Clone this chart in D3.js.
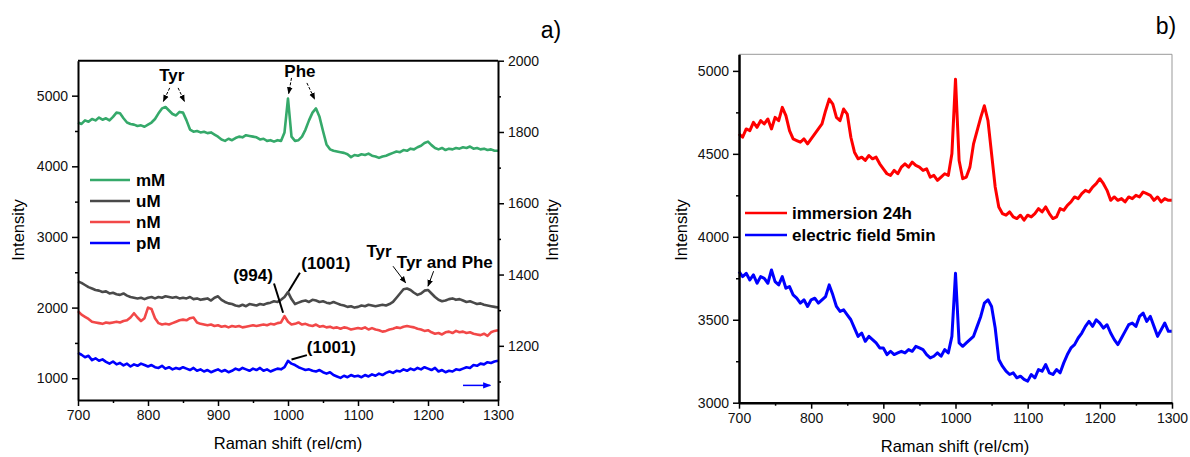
<!DOCTYPE html>
<html>
<head>
<meta charset="utf-8">
<script src="https://cdn.jsdelivr.net/npm/d3@7"></script>
<style>
body{margin:0;background:#fff;}
svg{display:block;font-family:"Liberation Sans",Arial,sans-serif;}
.tick text{font-size:14px;fill:#111;}
</style>
</head>
<body>
<script>
//raman shift grid, one value every 5 rel/cm
var shift = d3.range(700, 1301, 5);

//panel a series (mM, uM, nM on left axis, pM on right axis)
var mM = [4620,4600,4650,4630,4670,4650,4690,4660,4680,4650,
          4700,4760,4750,4680,4620,4600,4590,4570,4580,4560,
          4590,4620,4670,4750,4820,4840,4790,4740,4720,4770,
          4760,4650,4520,4490,4500,4480,4490,4470,4480,4450,
          4420,4380,4360,4390,4370,4400,4420,4410,4440,4430,
          4420,4410,4380,4390,4360,4370,4350,4370,4360,4480,
          4960,4420,4360,4370,4420,4520,4650,4760,4820,4700,
          4500,4310,4240,4220,4210,4200,4190,4170,4130,4160,
          4150,4170,4160,4180,4150,4140,4120,4140,4150,4170,
          4190,4210,4200,4230,4220,4250,4240,4270,4290,4330,
          4350,4300,4260,4240,4260,4230,4250,4240,4260,4250,
          4270,4260,4280,4250,4260,4240,4250,4230,4240,4220,
          4220];
var uM = [2370,2350,2320,2290,2270,2250,2240,2220,2230,2200,
          2210,2190,2180,2200,2170,2150,2140,2130,2140,2120,
          2140,2150,2130,2150,2140,2160,2150,2140,2150,2130,
          2140,2130,2150,2120,2130,2110,2120,2130,2100,2140,
          2160,2110,2080,2060,2050,2030,2020,2040,2020,2050,
          2040,2030,2050,2040,2060,2070,2090,2080,2110,2150,
          2220,2120,2050,2070,2090,2100,2080,2110,2100,2080,
          2090,2070,2060,2080,2060,2040,2030,2010,2020,2000,
          2010,2030,2020,2040,2030,2020,2030,2040,2030,2050,
          2080,2140,2200,2260,2270,2250,2210,2180,2200,2240,
          2250,2200,2150,2110,2090,2100,2120,2130,2110,2120,
          2100,2080,2090,2070,2050,2060,2040,2030,2020,2010,
          2000];
var nM = [1950,1900,1870,1840,1800,1790,1780,1770,1790,1780,
          1790,1800,1790,1810,1820,1860,1920,1860,1810,1850,
          2000,1980,1850,1780,1760,1770,1760,1780,1800,1820,
          1830,1820,1850,1860,1790,1770,1760,1750,1760,1740,
          1750,1730,1740,1720,1740,1730,1740,1720,1730,1740,
          1750,1740,1750,1760,1750,1770,1760,1780,1790,1880,
          1800,1760,1770,1790,1760,1770,1750,1740,1760,1730,
          1740,1720,1730,1710,1720,1700,1720,1710,1690,1700,
          1710,1700,1720,1690,1710,1690,1680,1660,1670,1690,
          1700,1720,1710,1730,1740,1730,1720,1700,1690,1670,
          1680,1650,1630,1640,1620,1650,1660,1640,1670,1650,
          1660,1640,1650,1630,1620,1610,1630,1600,1650,1670,
          1680];
var pM = [1180,1175,1168,1172,1160,1165,1158,1162,1155,1150,
          1156,1148,1152,1145,1150,1142,1148,1144,1150,1146,
          1142,1146,1140,1138,1144,1136,1140,1134,1138,1135,
          1140,1136,1132,1138,1130,1134,1128,1132,1126,1130,
          1134,1128,1132,1126,1130,1136,1132,1138,1134,1130,
          1136,1132,1138,1130,1134,1128,1132,1136,1134,1140,
          1158,1150,1146,1140,1136,1132,1134,1130,1128,1132,
          1126,1122,1126,1118,1114,1110,1116,1112,1118,1114,
          1116,1112,1118,1114,1120,1116,1122,1118,1124,1128,
          1124,1130,1128,1134,1130,1136,1132,1138,1134,1140,
          1136,1132,1138,1128,1132,1126,1130,1128,1134,1132,
          1136,1140,1138,1146,1144,1150,1148,1154,1152,1156,
          1158];

//panel b series
var immersion = [4620,4600,4650,4640,4690,4660,4700,4680,4710,4650,
                 4720,4700,4780,4730,4640,4590,4580,4570,4590,4560,
                 4590,4620,4650,4680,4760,4830,4800,4720,4700,4770,
                 4740,4600,4510,4470,4480,4460,4490,4470,4480,4440,
                 4410,4380,4370,4400,4380,4420,4440,4420,4450,4430,
                 4420,4400,4410,4360,4370,4340,4360,4380,4370,4500,
                 4950,4460,4350,4360,4420,4560,4640,4720,4790,4700,
                 4500,4300,4180,4140,4130,4150,4120,4110,4130,4100,
                 4130,4120,4140,4170,4150,4180,4140,4110,4120,4170,
                 4160,4190,4210,4240,4230,4260,4280,4270,4300,4320,
                 4350,4320,4280,4220,4240,4220,4230,4210,4240,4230,
                 4250,4240,4270,4260,4250,4220,4240,4210,4230,4220,
                 4220];
var electric = [3790,3760,3780,3740,3770,3720,3760,3750,3720,3800,
                3730,3710,3760,3690,3700,3650,3630,3600,3620,3580,
                3620,3630,3600,3620,3640,3710,3650,3580,3550,3560,
                3530,3500,3450,3400,3420,3370,3400,3380,3360,3330,
                3330,3290,3310,3290,3300,3310,3300,3320,3310,3340,
                3330,3320,3290,3270,3280,3300,3280,3320,3300,3400,
                3780,3360,3340,3360,3380,3400,3460,3520,3600,3620,
                3580,3450,3260,3220,3190,3170,3180,3150,3160,3140,
                3130,3170,3150,3200,3190,3230,3180,3170,3200,3180,
                3240,3290,3330,3350,3390,3420,3460,3490,3460,3500,
                3480,3450,3470,3420,3380,3350,3390,3430,3470,3480,
                3460,3520,3540,3490,3520,3460,3400,3440,3480,3430,
                3430];

//tick values
var xTicks = [700, 800, 900, 1000, 1100, 1200, 1300];
var xMinor = [750, 850, 950, 1050, 1150, 1250];
var yTicksA = [1000, 2000, 3000, 4000, 5000];
var yMinorA = [1500, 2500, 3500, 4500];
var yTicksA2 = [1200, 1400, 1600, 1800, 2000];
var yMinorA2 = [1100, 1300, 1500, 1700, 1900];
var yTicksB = [3000, 3500, 4000, 4500, 5000];
var yMinorB = [3250, 3750, 4250, 4750];

window.onload = function(){
    var svg = d3.select("body").append("svg")
        .attr("width", 1190)
        .attr("height", 457);
    svg.append("rect").attr("width", 1190).attr("height", 457).attr("fill", "#fff");

    var defs = svg.append("defs");
    [["arrK", "#000", 7], ["arrB", "#0000ff", 8]].forEach(function(m){
        defs.append("marker")
            .attr("id", m[0])
            .attr("viewBox", "0 0 10 10")
            .attr("refX", 9).attr("refY", 5)
            .attr("markerUnits", "userSpaceOnUse")
            .attr("markerWidth", m[2]).attr("markerHeight", m[2])
            .attr("orient", "auto")
            .append("path")
            .attr("d", "M0,1L10,5L0,9z")
            .attr("fill", m[1]);
    });

    setPanelA(svg);
    setPanelB(svg);
};

function styleAxis(g, width){
    g.select(".domain").attr("stroke", "#000").attr("stroke-width", width);
    g.selectAll(".tick line").attr("stroke", "#000").attr("stroke-width", 1.5);
}

function addAxis(svg, axisFn, scale, major, minor, transform, width){
    var g = svg.append("g").attr("transform", transform);
    g.call(axisFn(scale).tickValues(major).tickSize(6).tickSizeOuter(0).tickPadding(4).tickFormat(d3.format("d")));
    styleAxis(g, width);
    var gm = svg.append("g").attr("transform", transform);
    gm.call(axisFn(scale).tickValues(minor).tickSize(3).tickSizeOuter(0).tickFormat(""));
    gm.select(".domain").remove();
    gm.selectAll(".tick line").attr("stroke", "#000").attr("stroke-width", 1.5);
    return g;
}

function drawSeries(svg, x, y, values, color, width){
    var line = d3.line()
        .x(function(d, i){ return x(shift[i]); })
        .y(function(d){ return y(d); });
    svg.append("path")
        .datum(values)
        .attr("d", line)
        .attr("fill", "none")
        .attr("stroke", color)
        .attr("stroke-width", width)
        .attr("stroke-linejoin", "round");
}

function setPanelA(svg){
    var left = 78, right = 498, top = 60.7, bottom = 400;
    var x = d3.scaleLinear().domain([700, 1300]).range([left, right]);
    var y = d3.scaleLinear().domain([692, 5495]).range([bottom, top]);
    var y2 = d3.scaleLinear().domain([1048, 2000]).range([bottom, top]);

    var series = [
        {name: "mM", values: mM, color: "#35a96a", scale: y},
        {name: "uM", values: uM, color: "#4a4a4a", scale: y},
        {name: "nM", values: nM, color: "#f24848", scale: y},
        {name: "pM", values: pM, color: "#0000ff", scale: y2}
    ];
    series.forEach(function(s){
        drawSeries(svg, x, s.scale, s.values, s.color, 2.6);
    });

    //axes
    svg.append("line").attr("x1", left).attr("x2", right).attr("y1", top).attr("y2", top)
        .attr("stroke", "#000").attr("stroke-width", 2);
    addAxis(svg, d3.axisBottom, x, xTicks, xMinor, "translate(0," + bottom + ")", 2);
    addAxis(svg, d3.axisLeft, y, yTicksA, yMinorA, "translate(" + left + ",0)", 2);
    addAxis(svg, d3.axisRight, y2, yTicksA2, yMinorA2, "translate(" + right + ",0)", 2);

    //axis titles
    svg.append("text").attr("x", 288).attr("y", 449).attr("text-anchor", "middle")
        .style("font-size", "16.5px").text("Raman shift (rel/cm)");
    svg.append("text").attr("transform", "translate(24,230) rotate(-90)").attr("text-anchor", "middle")
        .style("font-size", "16.5px").text("Intensity");
    svg.append("text").attr("transform", "translate(558,230) rotate(-90)").attr("text-anchor", "middle")
        .style("font-size", "16.5px").text("Intensity");
    svg.append("text").attr("x", 551).attr("y", 38).attr("text-anchor", "middle")
        .style("font-size", "23px").text("a)");

    //legend
    var legend = svg.selectAll(".legA")
        .data(series)
        .enter()
        .append("g")
        .attr("class", "legA")
        .attr("transform", function(d, i){ return "translate(90," + (180 + i * 21) + ")"; });
    legend.append("line").attr("x1", 0).attr("x2", 40)
        .attr("stroke", function(d){ return d.color; }).attr("stroke-width", 2.5);
    legend.append("text").attr("x", 46).attr("y", 6)
        .style("font-size", "17px").style("font-weight", "bold")
        .text(function(d){ return d.name; });

    //peak labels (data coordinates: shift, left-axis intensity)
    var labels = [
        {t: "Tyr", x: 834, v: 5213},
        {t: "Phe", x: 1017, v: 5270},
        {t: "(994)", x: 950, v: 2380},
        {t: "(1001)", x: 1054, v: 2550},
        {t: "Tyr", x: 1130, v: 2720},
        {t: "Tyr and Phe", x: 1224, v: 2560},
        {t: "(1001)", x: 1062, v: 1360}
    ];
    svg.selectAll(".annA")
        .data(labels)
        .enter()
        .append("text")
        .attr("class", "annA")
        .attr("x", function(d){ return x(d.x); })
        .attr("y", function(d){ return y(d.v); })
        .attr("text-anchor", "middle")
        .style("font-size", "17px").style("font-weight", "bold")
        .text(function(d){ return d.t; });

    //thin arrows to peaks
    var arrows = [
        {x1: 831, v1: 5110, x2: 822, v2: 4920, dash: "3,1.5"},
        {x1: 843, v1: 5110, x2: 852, v2: 4920, dash: "3,1.5"},
        {x1: 1005, v1: 5251, x2: 1001, v2: 5030, dash: "3,1.5"},
        {x1: 1027, v1: 5180, x2: 1038, v2: 4950, dash: "3,1.5"},
        {x1: 1150, v1: 2586, x2: 1168, v2: 2351, dash: null},
        {x1: 1208, v1: 2515, x2: 1200, v2: 2303, dash: null}
    ];
    svg.selectAll(".arrA")
        .data(arrows)
        .enter()
        .append("line")
        .attr("class", "arrA")
        .attr("x1", function(d){ return x(d.x1); })
        .attr("y1", function(d){ return y(d.v1); })
        .attr("x2", function(d){ return x(d.x2); })
        .attr("y2", function(d){ return y(d.v2); })
        .attr("stroke", "#000").attr("stroke-width", 1)
        .attr("stroke-dasharray", function(d){ return d.dash; })
        .attr("marker-end", "url(#arrK)");

    //leader lines for the 994 / 1001 bands
    var leaders = [
        {x1: 980, v1: 2341, x2: 993, v2: 1927},
        {x1: 1017, v1: 2492, x2: 1001, v2: 2232},
        {x1: 1027, v1: 1327, x2: 1005, v2: 1266}
    ];
    svg.selectAll(".leadA")
        .data(leaders)
        .enter()
        .append("line")
        .attr("class", "leadA")
        .attr("x1", function(d){ return x(d.x1); })
        .attr("y1", function(d){ return y(d.v1); })
        .attr("x2", function(d){ return x(d.x2); })
        .attr("y2", function(d){ return y(d.v2); })
        .attr("stroke", "#000").attr("stroke-width", 2);

    //blue arrow: pM uses the right axis
    svg.append("line")
        .attr("x1", x(1250)).attr("x2", x(1289))
        .attr("y1", y2(1089)).attr("y2", y2(1089))
        .attr("stroke", "#0000ff").attr("stroke-width", 1.5)
        .attr("marker-end", "url(#arrB)");
}

function setPanelB(svg){
    var left = 739, right = 1172, top = 54.3, bottom = 402.7;
    var x = d3.scaleLinear().domain([700, 1300]).range([left, right]);
    var y = d3.scaleLinear().domain([3000, 5100]).range([bottom, top]);

    var series = [
        {name: "immersion 24h", values: immersion, color: "#ff0000"},
        {name: "electric field 5min", values: electric, color: "#0000ff"}
    ];
    series.forEach(function(s){
        drawSeries(svg, x, y, s.values, s.color, 3);
    });

    //frame
    svg.append("path")
        .attr("d", "M" + left + "," + top + "H" + right + "V" + bottom)
        .attr("fill", "none").attr("stroke", "#999").attr("stroke-width", 1);
    addAxis(svg, d3.axisBottom, x, xTicks, xMinor, "translate(0," + bottom + ")", 2.5);
    addAxis(svg, d3.axisLeft, y, yTicksB, yMinorB, "translate(" + left + ",0)", 2.5);

    svg.append("text").attr("x", 955).attr("y", 452).attr("text-anchor", "middle")
        .style("font-size", "16.5px").text("Raman shift (rel/cm)");
    svg.append("text").attr("transform", "translate(687,230) rotate(-90)").attr("text-anchor", "middle")
        .style("font-size", "16.5px").text("Intensity");
    svg.append("text").attr("x", 1166).attr("y", 34).attr("text-anchor", "middle")
        .style("font-size", "23px").text("b)");

    var legend = svg.selectAll(".legB")
        .data(series)
        .enter()
        .append("g")
        .attr("class", "legB")
        .attr("transform", function(d, i){ return "translate(745," + (213 + i * 22) + ")"; });
    legend.append("line").attr("x1", 0).attr("x2", 42)
        .attr("stroke", function(d){ return d.color; }).attr("stroke-width", 2.5);
    legend.append("text").attr("x", 47).attr("y", 6)
        .style("font-size", "17px").style("font-weight", "bold")
        .text(function(d){ return d.name; });
}
</script>
</body>
</html>
